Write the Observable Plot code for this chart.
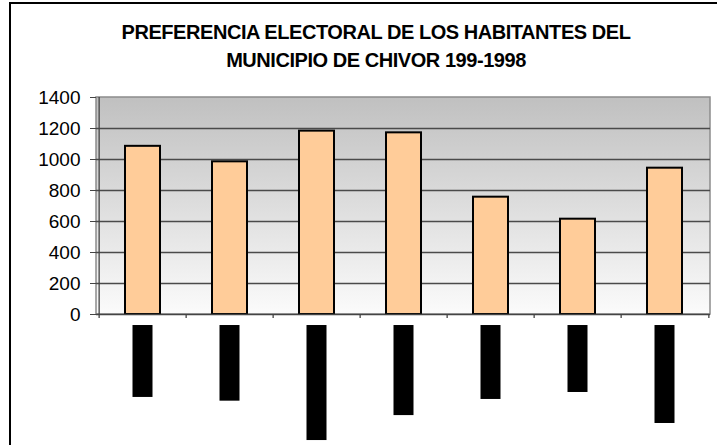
<!DOCTYPE html>
<html><head><meta charset="utf-8">
<script src="https://cdn.jsdelivr.net/npm/d3@7"></script>
<script src="https://cdn.jsdelivr.net/npm/@observablehq/plot@0.6"></script>
<style>
body{margin:0;background:#fff;}
#wrap{position:relative;width:717px;height:445px;overflow:hidden;font-family:"Liberation Sans",Arial,sans-serif;}
#border{position:absolute;left:9px;top:2px;width:800px;height:500px;border-left:2px solid #000;border-top:2px solid #000;}
#title{position:absolute;left:0;width:752px;top:18px;text-align:center;font-weight:bold;font-size:20px;letter-spacing:-0.45px;line-height:28px;color:#000;}
#chart{position:absolute;left:0;top:0;}
</style></head><body>
<div id="wrap"><div id="border"></div><div id="chart"></div><div id="title">PREFERENCIA ELECTORAL DE LOS HABITANTES DEL<br>MUNICIPIO DE CHIVOR 199-1998</div></div>
<script>
// Categories (their labels appear only as solid black blocks in the reference)
const categories = ["C1", "C2", "C3", "C4", "C5", "C6", "C7"];
const votes = [1085, 985, 1183, 1172, 757, 615, 944];
// depth of the obscured category-label blocks below the axis, in axis units
const labelBlockDepth = [535, 559, 813, 652, 548, 503, 703];
const labelBlockStart = 71;
const yTicks = [0, 200, 400, 600, 800, 1000, 1200, 1400];

const data = categories.map((c, i) => ({cat: c, votes: votes[i], depth: labelBlockDepth[i]}));

const W = 717, ML = 96, MR = 7;
const step = (W - ML - MR) / categories.length;
const tickLen = 26;

const svg = Plot.plot({
  width: W, height: 445,
  marginLeft: ML, marginRight: MR, marginTop: 97, marginBottom: 0,
  x: {domain: categories, paddingInner: 0.6, paddingOuter: 0.3, axis: null},
  y: {domain: [-845, 1400], axis: null},
  style: {background: "transparent", fontFamily: "'Liberation Sans', Arial, sans-serif"},
  marks: [
    Plot.rect([0], {y1: 0, y2: 1400, fill: "url(#bgGrad)", stroke: "#8c8c8c", strokeWidth: 1.5}),
    Plot.ruleY(yTicks.filter(t => t > 0 && t < 1400), {stroke: "#4a4a4a", strokeWidth: 1.3}),
    Plot.barY(data, {x: "cat", y: "votes", fill: "#ffcc99", stroke: "#000", strokeWidth: 2}),
    Plot.ruleY([0], {stroke: "#444", strokeWidth: 1.3}),
    Plot.ruleX(categories, {x: d => d, y1: -tickLen, y2: d => d === categories[0] ? 1400 : 0, dx: -step / 2, stroke: "#444", strokeWidth: 1.3}),
    Plot.ruleX([categories[categories.length - 1]], {x: d => d, y1: -tickLen, y2: 0, dx: step / 2, stroke: "#444", strokeWidth: 1.3}),
    Plot.axisY({ticks: yTicks, label: null, tickSize: 6, tickPadding: 10, fontSize: 19, stroke: "#444", fill: "#000", tickFormat: d => String(d)}),
    Plot.barY(data, {x: "cat", y1: -labelBlockStart, y2: d => -d.depth, fill: "#000", insetLeft: 7.5, insetRight: 7.5})
  ]
});

const defs = d3.select(svg).insert("defs", ":first-child");
const g = defs.append("linearGradient").attr("id", "bgGrad").attr("x1", 0).attr("y1", 0).attr("x2", 0).attr("y2", 1);
g.append("stop").attr("offset", "0%").attr("stop-color", "#c0c0c0");
g.append("stop").attr("offset", "100%").attr("stop-color", "#fbfbfb");

document.getElementById("chart").appendChild(svg);
</script>
</body></html>
